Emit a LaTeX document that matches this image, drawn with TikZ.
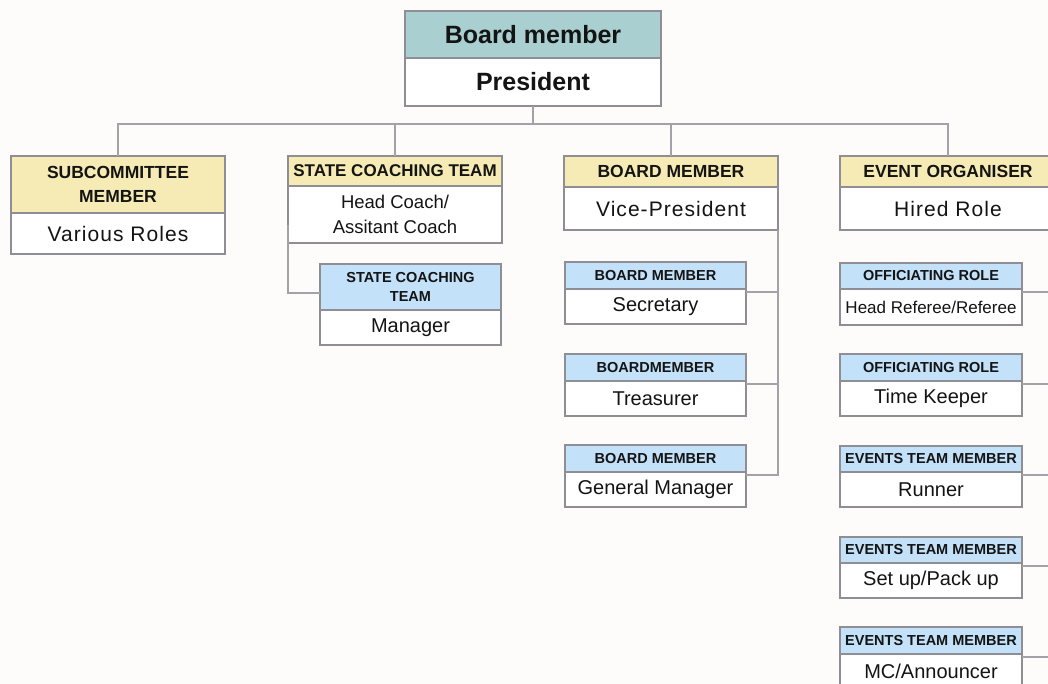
\documentclass[tikz,border=0pt]{standalone}
\usepackage{fontspec}
\setmainfont{Liberation Sans}
\newfontfamily\widefont[LetterSpace=5]{Liberation Sans}
\definecolor{bgpaper}{HTML}{FDFCFA}
\definecolor{tealhead}{HTML}{A9CFD1}
\definecolor{sandhead}{HTML}{F6EBB4}
\definecolor{skyhead}{HTML}{C3E1F8}
\definecolor{boxline}{HTML}{8E8E94}
\definecolor{linkline}{HTML}{A2A2A8}

\begin{document}
\begin{tikzpicture}[x=1pt, y=-1pt,
  cell/.style={draw=boxline, line width=1.3pt, anchor=north west, inner sep=0pt, outer sep=0pt, align=center, text=black!92},
  tophead/.style={cell, fill=tealhead, minimum width=256pt, font=\bfseries\fontsize{25}{30}\selectfont},
  topbody/.style={cell, fill=white, minimum width=256pt, font=\bfseries\fontsize{25}{30}\selectfont},
  yhead/.style={cell, fill=sandhead, font=\bfseries\fontsize{17.5}{24}\selectfont},
  bhead/.style={cell, fill=skyhead, minimum width=181pt, font=\bfseries\fontsize{14.5}{19}\selectfont},
  body/.style={cell, fill=white, font=\fontsize{20}{25}\selectfont},
  link/.style={draw=linkline, line width=1.3pt}]
  \path [use as bounding box] (0,0) rectangle (1048,684);
  \clip (0,0) rectangle (1048,684);
  \fill [bgpaper] (0,0) rectangle (1048,684);

  \node [tophead, minimum height=47pt] (presh) at (405,11) {Board member};
  \node [topbody, minimum height=48pt] (presb) at (405,58) {President};

  \node [yhead, minimum width=214pt, minimum height=57pt] (subh) at (11,156) {SUBCOMMITTEE\\MEMBER};
  \node [body, minimum width=214pt, minimum height=41pt, font=\widefont\fontsize{21}{25}\selectfont] (subb) at (11,213) {Various Roles};

  \node [yhead, minimum width=214pt, minimum height=30pt, font=\bfseries\fontsize{17}{24}\selectfont] (scth) at (288,156) {STATE COACHING TEAM};
  \node [body, minimum width=214pt, minimum height=57pt, font=\fontsize{18.5}{25}\selectfont] (sctb) at (288,186) {Head Coach/\\Assitant Coach};
  \node [bhead, minimum height=46pt] (mgrh) at (320,264) {STATE COACHING\\TEAM};
  \node [body, minimum width=181pt, minimum height=35pt] (mgrb) at (320,310) {Manager};

  \node [yhead, minimum width=214pt, minimum height=31pt] (vph) at (564,156) {BOARD MEMBER};
  \node [body, minimum width=214pt, minimum height=43pt, font=\widefont\fontsize{21}{25}\selectfont] (vpb) at (564,187) {Vice-President};
  \node [bhead, minimum height=27pt] (sech) at (565,262) {BOARD MEMBER};
  \node [body, minimum width=181pt, minimum height=35pt] (secb) at (565,289) {Secretary};
  \node [bhead, minimum height=27pt] (treh) at (565,354) {BOARDMEMBER};
  \node [body, minimum width=181pt, minimum height=35pt] (treb) at (565,381) {Treasurer};
  \node [bhead, minimum height=27pt] (gmh) at (565,445) {BOARD MEMBER};
  \node [body, minimum width=181pt, minimum height=35pt] (gmb) at (565,472) {General Manager};

  \node [yhead, minimum width=216pt, minimum height=31pt] (evh) at (840,156) {EVENT ORGANISER};
  \node [body, minimum width=216pt, minimum height=43pt, font=\widefont\fontsize{21}{25}\selectfont] (evb) at (840,187) {Hired Role};
  \node [bhead, minimum width=182pt, minimum height=26pt] (refh) at (840,263) {OFFICIATING ROLE};
  \node [body, minimum width=182pt, minimum height=36pt, font=\fontsize{17}{20}\selectfont] (refb) at (840,289) {Head Referee/Referee};
  \node [bhead, minimum width=182pt, minimum height=27pt] (timeh) at (840,354) {OFFICIATING ROLE};
  \node [body, minimum width=182pt, minimum height=35pt] (timeb) at (840,381) {Time Keeper};
  \node [bhead, minimum width=182pt, minimum height=26pt] (runh) at (840,446) {EVENTS TEAM MEMBER};
  \node [body, minimum width=182pt, minimum height=35pt] (runb) at (840,472) {Runner};
  \node [bhead, minimum width=182pt, minimum height=26pt] (seth) at (840,537) {EVENTS TEAM MEMBER};
  \node [body, minimum width=182pt, minimum height=35pt] (setb) at (840,563) {Set up/Pack up};
  \node [bhead, minimum width=182pt, minimum height=27pt] (mch) at (840,627) {EVENTS TEAM MEMBER};
  \node [body, minimum width=182pt, minimum height=35pt] (mcb) at (840,654) {MC/Announcer};

  \coordinate (bus) at (533,124);
  \coordinate (evrail) at (1060,230);
  \draw [link] (presb.south) -- (bus);
  \draw [link] (subh.north) |- (evh.north |- bus) -- (evh.north);
  \draw [link] (scth.north) -- (scth.north |- bus);
  \draw [link] (vph.north) -- (vph.north |- bus);
  \draw [link] ([yshift=18pt]sctb.south west) |- ([yshift=-6pt]mgrh.west);
  \draw [link] ([yshift=-3pt]gmh.south east) -| (vpb.south east);
  \draw [link] ([yshift=-3pt]sech.south east) coordinate (secj) -- (secj -| vpb.south east);
  \draw [link] ([yshift=-3pt]treh.south east) coordinate (trej) -- (trej -| vpb.south east);
  \draw [link] (evb.south east) -- (evrail);
  \draw [link] ([yshift=-3pt]mch.south east) -| (evrail);
  \draw [link] ([yshift=-3pt]refh.south east) -- ++(60,0);
  \draw [link] ([yshift=-3pt]timeh.south east) -- ++(60,0);
  \draw [link] ([yshift=-3pt]runh.south east) -- ++(60,0);
  \draw [link] ([yshift=-3pt]seth.south east) -- ++(60,0);
\end{tikzpicture}
\end{document}
